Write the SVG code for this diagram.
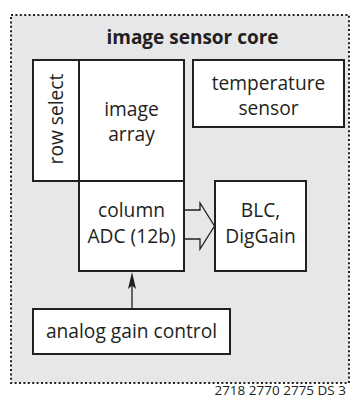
<svg xmlns="http://www.w3.org/2000/svg" width="351" height="398" viewBox="0 0 351 398">
  <style>
    .box { fill: #ffffff; stroke: #231f20; stroke-width: 2; }
    .t { font-family: "Open Sans", "DejaVu Sans", sans-serif; font-size: 19.2px; fill: #231f20; text-anchor: middle; }
    .title { font-family: "Open Sans", "DejaVu Sans", sans-serif; font-size: 19px; font-weight: bold; fill: #231f20; text-anchor: middle; }
    .conn { fill: none; stroke: #231f20; stroke-width: 1.3; }
  </style>
  <rect width="351" height="398" fill="#ffffff"/>
  <g id="core">
    <rect x="11" y="15" width="338" height="368" fill="#e6e7e8" stroke="#231f20" stroke-width="2" stroke-dasharray="2 2.4"/>
    <text class="title" x="192.5" y="44">image sensor core</text>
  </g>
  <g id="row-select">
    <rect class="box" x="33" y="60" width="46" height="121"/>
    <text class="t" transform="translate(63,119) rotate(-90)" x="0" y="0">row select</text>
  </g>
  <g id="image-array">
    <rect class="box" x="79" y="60" width="105" height="121"/>
    <text class="t" x="131.5" y="116">image</text>
    <text class="t" x="131.5" y="141">array</text>
  </g>
  <g id="temperature-sensor">
    <rect class="box" x="193" y="60" width="151" height="67"/>
    <text class="t" x="268.5" y="90">temperature</text>
    <text class="t" x="268.5" y="115">sensor</text>
  </g>
  <g id="column-adc">
    <rect class="box" x="79" y="181" width="105" height="90"/>
    <text class="t" x="131.5" y="217">column</text>
    <text class="t" x="131.5" y="243">ADC (12b)</text>
  </g>
  <g id="blc">
    <rect class="box" x="215" y="181" width="91" height="90"/>
    <text class="t" x="260.5" y="217">BLC,</text>
    <text class="t" x="260.5" y="243">DigGain</text>
  </g>
  <g id="analog-gain">
    <rect class="box" x="33" y="309" width="197" height="45"/>
    <text class="t" x="131.5" y="338">analog gain control</text>
  </g>
  <g id="connectors">
    <path class="conn" d="M185,210 H200 V203 L214.5,226 L200,249 V239 H185"/>
    <line class="conn" x1="132" y1="308" x2="132" y2="284"/>
    <path d="M132,272 L136,289 L132,285.5 L128,289 Z" fill="#231f20"/>
  </g>
  <text x="346" y="395" font-family="Open Sans, DejaVu Sans, sans-serif" font-size="13.5" fill="#231f20" text-anchor="end">2718 2770 2775 DS 3</text>
</svg>
